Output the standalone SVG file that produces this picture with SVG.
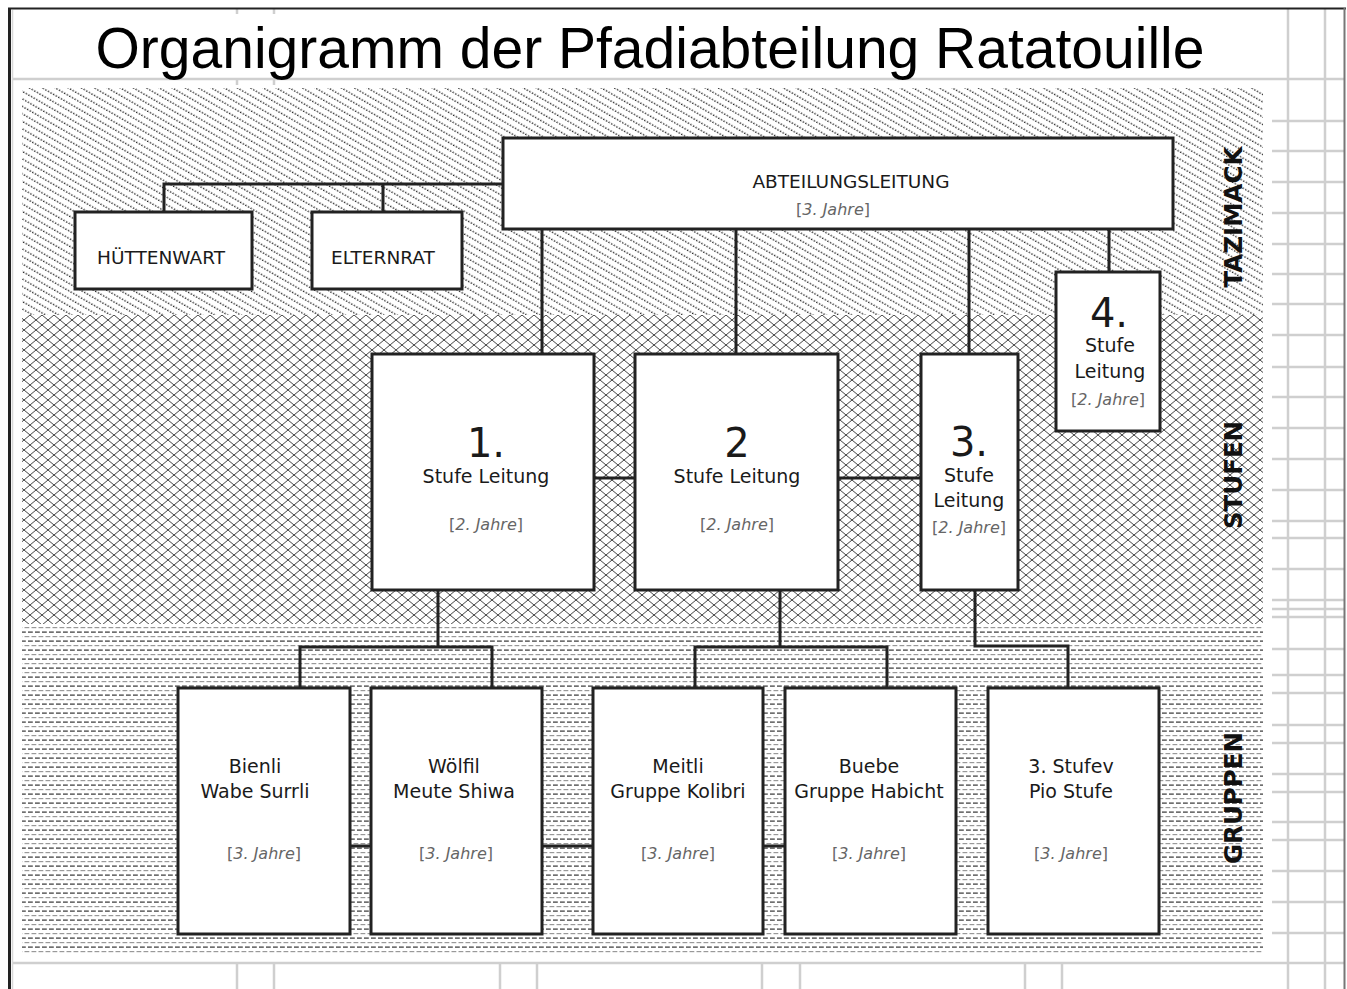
<svg xmlns="http://www.w3.org/2000/svg" width="1347" height="989" viewBox="0 0 1347 989">
<style>
.grid{stroke:#cfcfcf;stroke-width:2.5;fill:none}
.box{fill:#fff;stroke:#222;stroke-width:3}
.con{stroke:#222;stroke-width:3;fill:none}
.t{font-family:"DejaVu Sans",sans-serif;fill:#1a1a1a;text-anchor:middle}
.big{font-size:40px}
.mid{font-size:19px}
.cap{font-size:18.5px}
.yr{font-family:"DejaVu Sans",sans-serif;font-size:16px;fill:#666;text-anchor:middle}
.it{font-style:italic}
.side{font-family:"DejaVu Sans",sans-serif;font-weight:bold;font-size:24.5px;fill:#111;text-anchor:middle}
</style>
<defs>
<pattern id="diag" patternUnits="userSpaceOnUse" width="6" height="6.5" patternTransform="rotate(30)">
<line x1="0" y1="3" x2="6" y2="3" stroke="#222" stroke-width="1.2" stroke-dasharray="1.4 1.6"/>
</pattern>
<pattern id="cross" patternUnits="userSpaceOnUse" width="12" height="10">
<path d="M0,0 L12,10 M12,0 L0,10" stroke="#444" stroke-width="1" fill="none"/>
</pattern>
<pattern id="dash" patternUnits="userSpaceOnUse" width="7" height="9">
<rect x="0" y="1.5" width="4.8" height="1.2" fill="#333"/>
<rect x="3.5" y="6" width="3.5" height="1.2" fill="#999"/>
<rect x="0" y="6" width="1.3" height="1.2" fill="#999"/>
</pattern>
</defs>
<rect width="1347" height="989" fill="#fff"/>
<g id="frame">
<line class="grid" x1="12" y1="79" x2="1345" y2="79"/>
<line class="grid" x1="12" y1="963" x2="1345" y2="963"/>
<line class="grid" x1="1288" y1="9" x2="1288" y2="989"/>
<line class="grid" x1="1325" y1="9" x2="1325" y2="989"/>
<path class="grid" stroke-width="2" d="M1272,121H1344M1272,151H1344M1272,182H1344M1272,213H1344M1272,244H1344M1272,274H1344M1272,304H1344M1272,335H1344M1272,367H1344M1272,397H1344M1272,428H1344M1272,459H1344M1272,490H1344M1272,521H1344M1272,538H1344M1272,569H1344M1272,600H1344M1272,609H1344M1272,617H1344M1272,649H1344M1272,675H1344M1272,693H1344M1272,725H1344M1272,743H1344M1272,774H1344M1272,792H1344M1272,822H1344M1272,840H1344M1272,871H1344M1272,902H1344M1272,933H1344"/>
<path class="grid" stroke-width="2" d="M237,963V989M274,963V989M500,963V989M537,963V989M762,963V989M800,963V989M1025,963V989M1062,963V989M237,9V14M274,9V14M237,79V85M274,79V85"/>
<line x1="12.5" y1="10" x2="12.5" y2="989" stroke="#d8d8d8" stroke-width="1.5"/>
<line x1="9.5" y1="8" x2="9.5" y2="989" stroke="#222" stroke-width="3"/>
<line x1="8" y1="8.5" x2="1346" y2="8.5" stroke="#222" stroke-width="2"/>
<line x1="1344.5" y1="8" x2="1344.5" y2="989" stroke="#777" stroke-width="2"/>
</g>
<g id="bands">
<rect x="22" y="88" width="1241" height="227" fill="url(#diag)"/>
<rect x="22" y="315" width="1241" height="309" fill="url(#cross)"/>
<rect x="22" y="626" width="1241" height="328" fill="url(#dash)"/>
</g>
<text x="650" y="68" font-family="Liberation Sans, Arial, sans-serif" font-size="57" fill="#000" text-anchor="middle">Organigramm der Pfadiabteilung Ratatouille</text>
<text class="side" transform="translate(1242,217) rotate(-90)">TAZIMACK</text>
<text class="side" transform="translate(1242,475) rotate(-90)">STUFEN</text>
<text class="side" transform="translate(1242,798) rotate(-90)">GRUPPEN</text>
<g id="connectors">
<path class="con" d="M164,212V184H503M383,184V212"/>
<path class="con" d="M542,229V354M736,229V354M969,229V354M1109,229V272"/>
<path class="con" d="M594,478H635M838,478H921"/>
<path class="con" d="M438,590V647M300,688V647H492V688"/>
<path class="con" d="M780,590V647M695,688V647H887V688"/>
<path class="con" d="M975,590V646H1068V688"/>
<path class="con" d="M350,846H371M542,846H593M763,846H785"/>
</g>
<g id="abteilungsleitung">
<rect class="box" x="503" y="138" width="670" height="91"/>
<text class="t cap" x="851" y="188">ABTEILUNGSLEITUNG</text>
<text class="yr" x="833" y="215">[<tspan class="it">3. Jahre</tspan>]</text>
</g>
<g id="huettenwart">
<rect class="box" x="75" y="212" width="177" height="77"/>
<text class="t cap" x="161" y="264">HÜTTENWART</text>
</g>
<g id="elternrat">
<rect class="box" x="312" y="212" width="150" height="77"/>
<text class="t cap" x="383" y="264">ELTERNRAT</text>
</g>
<g id="stufe1">
<rect class="box" x="372" y="354" width="222" height="236"/>
<text class="t big" x="486" y="457">1.</text>
<text class="t mid" x="486" y="483">Stufe Leitung</text>
<text class="yr" x="486" y="530">[<tspan class="it">2. Jahre</tspan>]</text>
</g>
<g id="stufe2">
<rect class="box" x="635" y="354" width="203" height="236"/>
<text class="t big" x="737" y="457">2</text>
<text class="t mid" x="737" y="483">Stufe Leitung</text>
<text class="yr" x="737" y="530">[<tspan class="it">2. Jahre</tspan>]</text>
</g>
<g id="stufe3">
<rect class="box" x="921" y="354" width="97" height="236"/>
<text class="t big" x="969" y="456">3.</text>
<text class="t mid" x="969" y="482">Stufe</text>
<text class="t mid" x="969" y="507">Leitung</text>
<text class="yr" x="969" y="533">[<tspan class="it">2. Jahre</tspan>]</text>
</g>
<g id="stufe4">
<rect class="box" x="1056" y="272" width="104" height="159"/>
<text class="t big" x="1109" y="327">4.</text>
<text class="t mid" x="1110" y="352">Stufe</text>
<text class="t mid" x="1110" y="378">Leitung</text>
<text class="yr" x="1108" y="405">[<tspan class="it">2. Jahre</tspan>]</text>
</g>
<g id="bienli">
<rect class="box" x="178" y="688" width="172" height="246"/>
<text class="t mid" x="255" y="773">Bienli</text>
<text class="t mid" x="255" y="798">Wabe Surrli</text>
<text class="yr" x="264" y="859">[<tspan class="it">3. Jahre</tspan>]</text>
</g>
<g id="woelfli">
<rect class="box" x="371" y="688" width="171" height="246"/>
<text class="t mid" x="454" y="773">Wölfil</text>
<text class="t mid" x="454" y="798">Meute Shiwa</text>
<text class="yr" x="456" y="859">[<tspan class="it">3. Jahre</tspan>]</text>
</g>
<g id="meitli">
<rect class="box" x="593" y="688" width="170" height="246"/>
<text class="t mid" x="678" y="773">Meitli</text>
<text class="t mid" x="678" y="798">Gruppe Kolibri</text>
<text class="yr" x="678" y="859">[<tspan class="it">3. Jahre</tspan>]</text>
</g>
<g id="buebe">
<rect class="box" x="785" y="688" width="171" height="246"/>
<text class="t mid" x="869" y="773">Buebe</text>
<text class="t mid" x="869" y="798">Gruppe Habicht</text>
<text class="yr" x="869" y="859">[<tspan class="it">3. Jahre</tspan>]</text>
</g>
<g id="pio">
<rect class="box" x="988" y="688" width="171" height="246"/>
<text class="t mid" x="1071" y="773">3. Stufev</text>
<text class="t mid" x="1071" y="798">Pio Stufe</text>
<text class="yr" x="1071" y="859">[<tspan class="it">3. Jahre</tspan>]</text>
</g>
</svg>
